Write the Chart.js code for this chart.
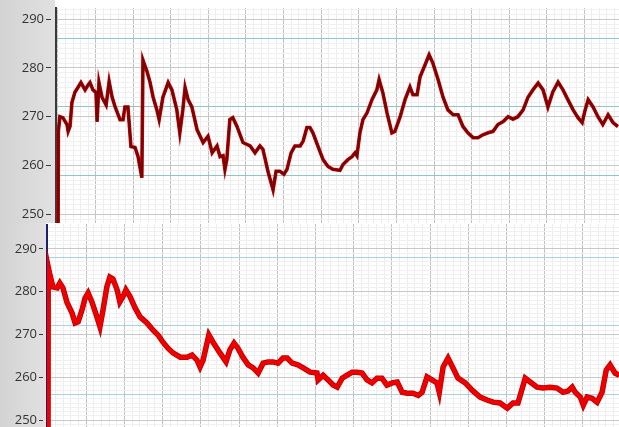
<!DOCTYPE html>
<html>
<head>
<meta charset="utf-8">
<script src="https://cdn.jsdelivr.net/npm/chart.js@4"></script>
<style>
  html, body { margin: 0; padding: 0; background: #fff; }
  body { width: 619px; height: 427px; position: relative; overflow: hidden; }
  .side { position: absolute; left: 0; background: linear-gradient(to right, #d3d3d3, #e1e1e1); }
  .panel { position: absolute; left: 0; width: 619px; }
</style>
</head>
<body>
<div class="side" style="top:0;height:223px;width:55px"></div>
<div class="side" style="top:223px;height:204px;width:46px"></div>
<div class="panel" style="top:0;height:223px"><canvas id="topChart"></canvas></div>
<div class="panel" style="top:224px;height:203px"><canvas id="bottomChart"></canvas></div>
<script>
// time in grid units (10 per major division), values
const TOP_TIME = [0, 0.1, 0.5, 1.3, 2.4, 2.7, 3.2, 3.7, 4.5, 5.3, 6.1, 7.2, 8.0, 8.5, 9.3, 10.1, 10.4, 10.9, 11.7, 12.8,
    13.6, 14.4, 15.2, 16.5, 17.3, 17.8, 18.6, 19.4, 20.5, 21.3, 22.3, 22.6, 23.7, 24.5, 25.3, 26.3, 26.9, 27.9, 29.3, 30.3,
    31.6, 32.4, 33.2, 33.8, 34.6, 35.6, 37.0, 37.8, 38.6, 39.9, 41.0, 42.3, 43.1, 43.9, 44.4, 44.9, 45.7, 46.5, 47.6, 49.2,
    51.1, 52.4, 53.7, 54.5, 55.9, 57.2, 58.0, 59.0, 60.1, 60.9, 62.0, 63.0, 64.4, 65.2, 66.2, 67.0, 67.8, 69.1, 70.5, 71.8,
    73.1, 75.0, 75.8, 77.1, 78.2, 79.0, 79.5, 80.3, 81.1, 82.2, 83.5, 84.8, 85.4, 86.4, 87.5, 88.8, 89.6, 91.0, 92.3, 93.6,
    94.4, 95.5, 96.3, 97.6, 98.7, 99.7, 101.1, 102.4, 103.7, 105.1, 106.4, 107.7, 109.0, 110.4, 111.7, 113.0, 114.4, 115.7,
    117.0, 118.4, 119.7, 121.0, 122.3, 123.7, 125.0, 126.3, 127.7, 129.0, 130.3, 131.6, 133.0, 134.3, 135.6, 137.0, 138.3,
    139.4, 140.2, 141.0, 142.3, 143.6, 144.9, 146.3, 147.6, 148.9];
const TOP_VALUE = [240, 267, 270, 269.8, 268.4, 267, 268, 272.9, 275, 276, 277, 275.5, 276.5, 277, 275.5, 275, 269, 277, 274, 272.4,
    277.2, 274, 272, 269.4, 269.4, 272, 272, 263.9, 263.7, 261.8, 257.5, 281.6, 279.2, 277, 274, 271.4, 269.4, 274, 277, 275.5,
    271.4, 266.7, 271.4, 276, 273.5, 272, 267.3, 266, 264.7, 266, 262.6, 264, 261.8, 262, 259.2, 261.2, 269.4, 269.8, 268, 264.7,
    264, 262.6, 264, 263.3, 258.6, 255, 258.8, 258.8, 258.2, 259.2, 262.6, 264, 264, 265, 267.8, 267.8, 266.7, 264, 261.2, 259.8,
    259.2, 259, 260.2, 261.2, 261.8, 262.6, 262, 266.7, 269.4, 270.8, 273.5, 275.5, 277.6, 274.9, 270.8, 266.7, 267, 270, 273.5, 276.1,
    274.5, 274.5, 278.2, 280.6, 282.7, 281, 277.6, 274, 271.4, 270.4, 270.4, 268, 266.7, 265.7, 265.7, 266.3, 266.7, 267,
    268.4, 269, 270, 269.5, 270, 271.4, 274, 275.5, 276.9, 275.5, 272, 275.1, 277.1, 275.5, 273.5, 271.4, 269.8,
    268.8, 271.4, 273.5, 272, 270, 268.4, 270.4, 268.8, 268];

const BOTTOM_TIME = [0, 0.05, 0.5, 1.3, 2.4, 3.1, 3.9, 5.0, 6.3, 7.1, 7.9, 8.9, 9.7, 10.5, 11.5, 12.8, 13.6, 14.4, 15.4, 16.2,
    17.0, 18.1, 18.8, 19.6, 20.4, 21.5, 22.8, 24.1, 25.9, 27.5, 28.8, 30.1, 31.4, 32.7, 34.6, 36.4, 37.7, 39.0, 39.8, 40.6,
    42.1, 43.2, 45.0, 46.6, 47.6, 48.7, 49.7, 51.0, 52.4, 53.7, 55.0, 56.3, 57.6, 58.9, 60.2, 61.5, 62.6, 63.9, 65.4, 66.8,
    68.6, 70.4, 70.7, 72.0, 73.3, 74.6, 75.7, 77.0, 78.3, 79.6, 80.9, 82.2, 83.5, 84.8, 86.1, 87.4, 88.7, 90.1, 91.4, 92.7,
    94.0, 95.5, 96.9, 97.9, 99.2, 100.5, 101.8, 102.4, 103.4, 104.7, 106.0, 107.3, 109.2, 111.0, 113.1, 114.9, 116.5, 118.3,
    120.2, 121.7, 123.0, 124.9, 126.2, 128.0, 129.6, 131.4, 133.2, 134.8, 136.1, 137.2, 138.0, 139.3, 140.1, 141.1, 142.4,
    143.7, 145.0, 146.1, 147.1, 148.4, 149.5];
const BOTTOM_VALUE = [240, 285.8, 283.9, 281.1, 280.9, 282, 280.9, 277.4, 275, 272.7, 273, 275.7, 278.5, 279.7, 277.6, 274.1, 271.8, 275.7, 281.1, 283.4,
    283, 280.4, 277.6, 278.8, 280.4, 278.8, 276.2, 274.1, 272.7, 271, 269.9, 268.2, 266.8, 265.7, 264.7, 264.7, 265.2, 264, 262.4, 264,
    269.9, 268.2, 265.7, 263.6, 266.4, 268, 266.8, 264.7, 262.9, 262.2, 261, 263.3, 263.6, 263.6, 263.3, 264.5, 264.5, 263.3, 262.9, 262.2,
    261.2, 261, 259.4, 260.5, 259.4, 258.2, 257.7, 259.8, 260.5, 261.2, 261.2, 261, 259.4, 258.7, 259.8, 259.8, 258.2, 258.7, 258.9, 256.5,
    256.3, 256.3, 255.8, 256.5, 260.1, 259.4, 258.7, 256.5, 262.4, 264.5, 262.2, 259.8, 258.7, 257, 255.4, 254.7, 254.2, 254,
    252.8, 254, 254, 259.8, 258.9, 257.7, 257.5, 257.7, 257.5, 256.5, 256.8, 257.7, 256.5, 255.4, 253.5, 255.4, 255.1,
    254.2, 256.5, 261.7, 262.9, 261, 260.5];

const TOP_LIMITS = [258, 272, 286];
const BOTTOM_LIMITS = [256, 272, 288];

Chart.defaults.font.family = "'Open Sans', sans-serif";
Chart.defaults.font.size = 13;
Chart.defaults.color = '#333';
Chart.defaults.animation = false;

function isMultiple(v, step) {
    return Math.abs(v / step - Math.round(v / step)) < 1e-6;
}

function createPanel(id, times, values, limits, cfg) {
    const points = times.map((t, i) => ({ x: t, y: values[i] }));
    let tickPaint = null;

    new Chart(document.getElementById(id), {
        type: 'line',
        data: {
            datasets: [
                { data: points, borderColor: cfg.core, borderWidth: cfg.coreWidth, pointRadius: 0, tension: 0 },
                { data: points, borderColor: cfg.edge, borderWidth: cfg.edgeWidth, pointRadius: 0, tension: 0 }
            ]
        },
        options: {
            responsive: true,
            maintainAspectRatio: false,
            layout: { padding: { top: cfg.top, left: 0, right: 0, bottom: 0 } },
            plugins: { legend: { display: false }, tooltip: { enabled: false } },
            scales: {
                x: {
                    type: 'linear',
                    min: cfg.xMin,
                    max: cfg.xMax,
                    ticks: { display: false, stepSize: 2, includeBounds: false, autoSkip: false },
                    grid: {
                        drawTicks: false,
                        color: c => isMultiple(c.tick.value, 10) ? '#c2c2c2' :
                            (isMultiple(c.tick.value, 2) ? '#ededed' : 'rgba(0,0,0,0)')
                    },
                    border: { display: false },
                    afterFit: s => { s.height = 0; s.paddingLeft = 0; s.paddingRight = 0; }
                },
                y: {
                    min: cfg.yMin,
                    max: cfg.yMax,
                    ticks: {
                        stepSize: 1,
                        autoSkip: false,
                        includeBounds: false,
                        padding: 2,
                        callback: v => isMultiple(v, 10) ? String(Math.round(v)) : ''
                    },
                    grid: {
                        tickLength: cfg.tickLength,
                        color: c => {
                            const v = c.tick.value;
                            if (limits.some(l => Math.abs(l - v) < 1e-6)) return cfg.limitColor;
                            if (isMultiple(v, 10)) return '#c8c8c8';
                            return isMultiple(v, 1) ? '#f0f0f0' : 'rgba(0,0,0,0)';
                        },
                        tickColor: c => {
                            if (!isMultiple(c.tick.value, 10)) return 'rgba(0,0,0,0)';
                            if (!tickPaint) {
                                // dash that stops short of the axis line
                                tickPaint = c.chart.ctx.createLinearGradient(cfg.left - cfg.tickLength, 0, cfg.left, 0);
                                tickPaint.addColorStop(0, '#3a3a3a');
                                tickPaint.addColorStop(0.5, '#3a3a3a');
                                tickPaint.addColorStop(0.5, 'rgba(58,58,58,0)');
                                tickPaint.addColorStop(1, 'rgba(58,58,58,0)');
                            }
                            return tickPaint;
                        }
                    },
                    border: { color: cfg.axis, width: 2 },
                    afterFit: s => { s.width = cfg.left; s.paddingTop = 0; s.paddingBottom = 0; }
                }
            }
        }
    });
}

createPanel('topChart', TOP_TIME, TOP_VALUE, TOP_LIMITS, {
    top: 8, left: 56, tickLength: 10,
    xMin: -0.53, xMax: 149.2, yMin: 248.2, yMax: 292.3,
    axis: '#3a3a3a', limitColor: '#8ec5c5',
    edge: '#d00000', edgeWidth: 3.6, core: '#780505', coreWidth: 2.4
});

createPanel('bottomChart', BOTTOM_TIME, BOTTOM_VALUE, BOTTOM_LIMITS, {
    top: 0, left: 47, tickLength: 8,
    xMin: -0.26, xMax: 149.44, yMin: 248.4, yMax: 295.8,
    axis: '#1f1f6e', limitColor: '#a9d3dd',
    edge: '#b80000', edgeWidth: 5.5, core: '#ee0000', coreWidth: 4
});
</script>
</body>
</html>
